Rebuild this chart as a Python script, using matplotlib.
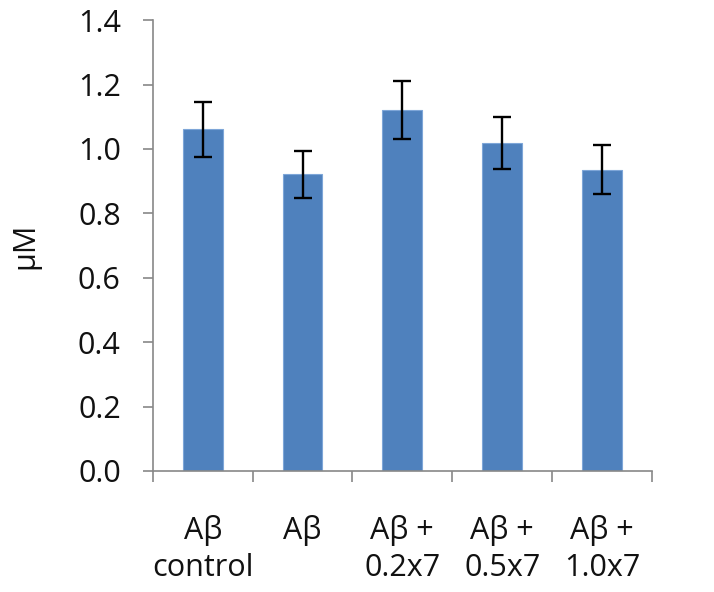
import matplotlib
matplotlib.use("Agg")
import matplotlib.pyplot as plt
import numpy as np

categories = ["A\u03b2\ncontrol", "A\u03b2\n ", "A\u03b2 +\n0.2x7", "A\u03b2 +\n0.5x7", "A\u03b2 +\n1.0x7"]
values = [1.061, 0.922, 1.121, 1.018, 0.935]
errors = [0.085, 0.073, 0.090, 0.081, 0.076]
yticks = [0.0, 0.2, 0.4, 0.6, 0.8, 1.0, 1.2, 1.4]

plt.rcParams['font.family'] = ['Open Sans', 'DejaVu Sans']

fig = plt.figure(figsize=(7.14, 5.92), dpi=100)
ax = fig.add_axes([0.214, 0.2044, 0.699, 0.7616])

x = np.arange(len(categories))
ax.bar(x, values, width=0.4, color='#4F81BD', edgecolor='#7EA6D8', linewidth=0.8, zorder=2)
ax.errorbar(x, values, yerr=errors, fmt='none', ecolor='black', elinewidth=1.7,
            capsize=6.5, capthick=1.7, zorder=3)

ax.set_xlim(-0.5, len(categories) - 0.5)
ax.set_ylim(0, 1.4)
ax.set_yticks(yticks)
ax.set_yticklabels([f"{v:.1f}" for v in yticks])
ax.set_xticks(x)
ax.set_xticklabels(categories, linespacing=1.3)
ax.set_xticks(np.arange(len(categories) + 1) - 0.5, minor=True)
ax.tick_params(axis='x', which='major', length=0, pad=32, labelsize=22, colors='#111111')
ax.tick_params(axis='x', which='minor', length=8, width=1.2, color='#888888', direction='out')
ax.tick_params(axis='y', length=7, width=1.2, color='#888888', direction='out', pad=16,
               labelsize=22, labelcolor='#111111')

for s in ['top', 'right']:
    ax.spines[s].set_visible(False)
for s in ['left', 'bottom']:
    ax.spines[s].set_color('#888888')
    ax.spines[s].set_linewidth(1.2)

ax.set_ylabel("\u03bcM", fontsize=22, labelpad=27, color='#111111')

fig.savefig("out.png", dpi=100, facecolor='white')
